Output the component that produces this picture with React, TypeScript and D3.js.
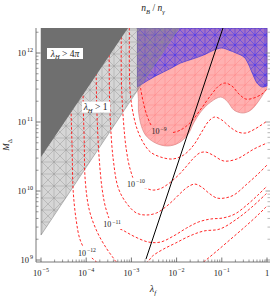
import * as d3 from 'd3'

type Pt = [number, number]

const WIDTH = 276
const HEIGHT = 296

const LAM_MIN = 1e-5
const LAM_MAX = 1
const M_MIN = 1e9
const M_TOP = 2.3e12

const xTickExps = [-5, -4, -3, -2, -1, 0]
const yTickExps = [9, 10, 11, 12]
const minorMults = [2, 3, 4, 5, 6, 7, 8, 9]

// lambda_H > 4pi and lambda_H > 1 edges (straight in log-log)
const lambdaH4piEdge: Pt[] = [[1e-5, 3.1e10], [8.4e-4, 2.3e12]]
const lambdaH1Edge: Pt[] = [[1e-5, 2.3e9], [1.13e-2, 2.3e12]]

// lower edge of the blue region
const blueEdge: Pt[] = [
  [1.36e-3, 3.21e11], [2.39e-3, 4.06e11], [3.78e-3, 4.8e11], [6.98e-3, 5.86e11],
  [1.23e-2, 7.16e11], [2.27e-2, 8.19e11], [3.98e-2, 9.35e11], [6.64e-2, 1.1e12],
  [0.1, 1.18e12], [0.143, 1.1e12], [0.205, 1.0e12], [0.308, 8.75e11],
  [0.378, 7.16e11], [0.441, 5.67e11], [0.514, 4.49e11], [0.6, 3.67e11],
  [0.774, 3.21e11], [1, 3.33e11],
]

// lower edge of the pink region
const redEdge: Pt[] = [
  [1.36e-3, 3.21e11], [1.43e-3, 2.08e11], [1.43e-3, 1.49e11], [1.59e-3, 9.68e10],
  [2.05e-3, 6.48e10], [3.41e-3, 4.96e10], [6.31e-3, 4.49e10], [1.11e-2, 4.96e10],
  [1.75e-2, 6.48e10], [2.39e-2, 9.68e10], [3.41e-2, 1.4e11], [5.7e-2, 1.95e11],
  [9.51e-2, 2.3e11], [0.136, 1.95e11], [0.185, 1.49e11], [0.293, 1.35e11],
  [0.441, 1.49e11], [0.631, 1.95e11], [0.857, 2.63e11], [1, 3.11e11],
]

// solid black line
const blackLine: Pt[] = [[2.1e-3, 1.03e9], [0.106, 2.3e12]]

// n_B / n_gamma contours
const contour9: Pt[] = [
  [1.59e-3, 3.11e11], [1.85e-3, 1.88e11], [2.27e-3, 1.18e11], [2.93e-3, 8.47e10],
  [4.19e-3, 7.41e10], [6.64e-3, 6.93e10], [1.23e-2, 7.66e10], [2.15e-2, 1.03e11],
  [3.59e-2, 1.6e11], [6.0e-2, 2.55e11], [8.57e-2, 3.33e11], [0.117, 3.67e11],
  [0.167, 3.33e11], [0.239, 2.55e11], [0.341, 2.15e11], [0.514, 2.23e11],
  [0.774, 2.55e11], [1, 3.0e11],
]
const contour9h: Pt[] = [
  [9.03e-4, 2.3e12], [9.03e-4, 5.67e11], [9.51e-4, 2.46e11], [1.11e-3, 1.26e11],
  [1.36e-3, 7.66e10], [1.85e-3, 4.96e10], [2.64e-3, 3.67e10], [4.41e-3, 3.11e10],
  [8.15e-3, 2.91e10], [1.43e-2, 3.32e10], [2.39e-2, 4.64e10], [3.59e-2, 7.16e10],
  [5.14e-2, 1.03e11], [6.98e-2, 1.18e11], [0.1, 1.07e11], [0.151, 8.47e10],
  [0.227, 7.16e10], [0.341, 6.93e10], [0.541, 7.92e10], [1, 1.03e11],
]
const contour10: Pt[] = [
  [6.0e-4, 2.3e12], [6.0e-4, 4.06e11], [6.64e-4, 1.07e11], [7.74e-4, 3.93e10],
  [9.51e-4, 2.01e10], [1.29e-3, 1.26e10], [2.05e-3, 1.1e10], [3.08e-3, 1.03e10],
  [4.64e-3, 1.1e10], [6.98e-3, 1.31e10], [1.11e-2, 1.71e10], [1.67e-2, 2.3e10],
  [2.39e-2, 3.01e10], [3.24e-2, 3.56e10], [4.41e-2, 3.67e10], [6.31e-2, 3.32e10],
  [0.111, 2.72e10], [0.215, 2.91e10], [0.341, 3.44e10], [0.514, 4.06e10], [1, 4.96e10],
]
const contour10h: Pt[] = [
  [3.24e-4, 2.3e12], [3.24e-4, 4.06e11], [3.41e-4, 1.07e11], [3.98e-4, 2.81e10],
  [5.14e-4, 1.1e10], [7.74e-4, 6.7e9], [1.29e-3, 4.8e9], [2.15e-3, 4.49e9],
  [3.59e-3, 4.8e9], [5.7e-3, 5.86e9], [8.57e-3, 7.41e9], [1.23e-2, 9.35e9],
  [1.75e-2, 1.14e10], [2.51e-2, 1.26e10], [3.59e-2, 1.14e10], [5.14e-2, 9.35e9],
  [7.74e-2, 7.92e9], [0.117, 7.92e9], [0.185, 8.75e9], [0.359, 1.26e10],
  [0.631, 1.76e10], [1, 2.38e10],
]
const contour11: Pt[] = [
  [1.67e-4, 2.3e12], [1.67e-4, 4.06e11], [1.75e-4, 1.07e11], [1.95e-4, 2.81e10],
  [2.27e-4, 1.03e10], [2.78e-4, 5.31e9], [3.78e-4, 3.32e9], [6.98e-4, 2.63e9],
  [1.23e-3, 2.15e9], [2.39e-3, 1.82e9], [4.41e-3, 1.82e9], [8.57e-3, 2.23e9],
  [1.67e-2, 2.91e9], [3.08e-2, 3.56e9], [5.7e-2, 3.93e9], [0.105, 4.06e9],
  [0.195, 4.64e9], [0.359, 6.27e9], [0.631, 8.75e9], [1, 1.18e10],
]
const contour11h: Pt[] = [
  [8.57e-5, 2.3e12], [8.57e-5, 2.08e11], [9.03e-5, 5.48e10], [9.51e-5, 1.44e10],
  [1.17e-4, 5.31e9], [1.75e-4, 2.55e9], [2.78e-4, 1.49e9], [3.98e-4, 1.07e9],
  [4.64e-4, 9.4e8], [9.5e-4, 7.2e8], [2.27e-3, 9.4e8], [2.93e-3, 1.14e9],
  [5.14e-3, 1.44e9], [9.51e-3, 1.76e9], [1.95e-2, 2.23e9], [3.98e-2, 2.63e9],
  [9.03e-2, 2.81e9], [0.215, 3.93e9], [0.464, 5.86e9], [1, 9.35e9],
]
const contour12: Pt[] = [
  [4.64e-5, 2.3e12], [4.64e-5, 1.49e11], [4.89e-5, 3.93e10], [5.14e-5, 1.03e10],
  [6.0e-5, 3.8e9], [7.36e-5, 1.95e9], [1.05e-4, 1.26e9], [1.67e-4, 9.4e8],
  [3.41e-4, 6.1e8], [2.64e-3, 4.3e8], [2.05e-2, 6.7e8], [3.98e-2, 9.4e8],
  [7.36e-2, 1.31e9], [0.158, 2.01e9], [0.341, 3.11e9], [0.664, 4.64e9], [1, 6.07e9],
]
const contours = [contour9, contour9h, contour10, contour10h, contour11, contour11h, contour12]

const contourLabelExps = [-9, -10, -11, -12]
const contourLabelPos: Pt[] = [[4.08e-3, 7.4e10], [1.26e-3, 1.28e10], [3.73e-4, 3.32e9], [1.04e-4, 1.28e9]]

const FONT = '"Liberation Serif", "Times New Roman", serif'

function Pow({ x, y, base, exp, anchor, size = 8.5 }: { x: number; y: number; base: string; exp: string; anchor: string; size?: number }) {
  return (
    <text x={x} y={y} textAnchor={anchor} fontSize={size} fill="#222">
      <tspan>{base}</tspan>
      <tspan dx={1} dy={-size * 0.42} fontSize={size * 0.72}>{exp}</tspan>
    </text>
  )
}

export default function App() {
  const x = d3.scaleLog().domain([LAM_MIN, LAM_MAX]).range([41, 267])
  const y = d3.scaleLog().domain([M_MIN, 1e12]).range([260, 53])
  const left = 36
  const right = 270
  const top = y(M_TOP)
  const bottom = 262

  const curve = d3.line<Pt>().x(d => x(d[0])).y(d => y(d[1])).curve(d3.curveCatmullRom.alpha(0.5))
  const poly = (pts: Pt[]) => 'M' + pts.map(p => `${x(p[0])},${y(p[1])}`).join('L') + 'Z'
  const underTop = (edge: Pt[]) =>
    curve(edge) + `L${x(LAM_MAX)},${top}L${x(edge[0][0])},${top}Z`

  const darkPath = poly([[LAM_MIN, M_TOP], lambdaH4piEdge[1], lambdaH4piEdge[0]])
  const lightPath = poly([[LAM_MIN, M_TOP], lambdaH1Edge[1], lambdaH1Edge[0]])
  const redPath = underTop(redEdge)
  const bluePath = underTop(blueEdge)

  const yMinor: number[] = []
  yTickExps.forEach(e => minorMults.forEach(k => {
    const v = k * Math.pow(10, e)
    if (v <= M_TOP) yMinor.push(v)
  }))
  const xMinor: number[] = []
  xTickExps.slice(0, -1).forEach(e => minorMults.forEach(k => xMinor.push(k * Math.pow(10, e))))

  return (
    <svg width={WIDTH} height={HEIGHT} style={{ position: 'absolute', left: 0, top: 0 }} fontFamily={FONT}>
      <defs>
        <clipPath id="plotClip">
          <rect x={left} y={top} width={right - left} height={bottom - top} />
        </clipPath>
        <pattern id="meshGray" width={12} height={12} patternUnits="userSpaceOnUse">
          <path d="M0,6H12M6,0V12M0,12L12,0M0,0L12,12" stroke="#8e8e8e" strokeWidth={0.5} fill="none" opacity={0.8} />
        </pattern>
        <pattern id="meshRed" width={10} height={10} patternUnits="userSpaceOnUse">
          <path d="M0,5H10M5,0V10M0,10L10,0M-5,5L5,-5M5,15L15,5" stroke="#ff7c7c" strokeWidth={0.5} fill="none" opacity={0.8} />
        </pattern>
        <pattern id="meshBlue" width={10} height={10} patternUnits="userSpaceOnUse">
          <path d="M0,5H10M5,0V10M0,10L10,0M0,0L10,10" stroke="#2d2dff" strokeWidth={0.6} fill="none" opacity={0.75} />
        </pattern>
        <mask id="labelMask">
          <rect x={0} y={0} width={WIDTH} height={HEIGHT} fill="white" />
          {contourLabelPos.map((p, i) => (
            <rect key={i} x={x(p[0]) - 12} y={y(p[1]) - 6} width={24} height={11} fill="black" />
          ))}
        </mask>
      </defs>

      <g clipPath="url(#plotClip)">
        <path d={redPath} fill="#ffb0b0" stroke="#d98a8a" strokeWidth={0.7} />
        <path d={redPath} fill="url(#meshRed)" />
        <path d={bluePath} fill="rgba(50,40,230,0.45)" stroke="#3b30d0" strokeWidth={0.6} />
        <path d={bluePath} fill="url(#meshBlue)" />
        <path d={lightPath} fill="rgba(128,128,128,0.32)" stroke="#8a8a8a" strokeWidth={0.6} />
        <path d={lightPath} fill="url(#meshGray)" />

        <g mask="url(#labelMask)">
          {contours.map((c, i) => (
            <path key={i} d={curve(c) ?? ''} fill="none" stroke="#ff1010" strokeWidth={0.9} strokeDasharray="2.6,1.9" />
          ))}
        </g>

        <path d={curve.curve(d3.curveLinear)(blackLine) ?? ''} fill="none" stroke="#000" strokeWidth={1} />

        <path d={darkPath} fill="#6f6f6f" />
      </g>

      {/* region labels */}
      <g fontSize={9.5}>
        <rect x={47} y={48} width={36} height={11} fill="white" />
        <text x={x(3.4e-5)} y={y(1e12) + 3.5} textAnchor="middle" fill="#222">
          <tspan fontStyle="italic">λ</tspan>
          <tspan dy={2.5} fontSize={6.5} fontStyle="italic">H</tspan>
          <tspan dy={-2.5}> &gt; 4</tspan>
          <tspan fontStyle="italic">π</tspan>
        </text>
        <rect x={82} y={101.5} width={28} height={11} fill="white" />
        <text x={x(1.61e-4)} y={y(1.65e11) + 3.5} textAnchor="middle" fill="#222">
          <tspan fontStyle="italic">λ</tspan>
          <tspan dy={2.5} fontSize={6.5} fontStyle="italic">H</tspan>
          <tspan dy={-2.5}> &gt; 1</tspan>
        </text>
      </g>

      {/* contour labels */}
      {contourLabelPos.map((p, i) => (
        <Pow key={i} x={x(p[0])} y={y(p[1]) + 3} base="10" exp={`−${-contourLabelExps[i]}`} anchor="middle" size={8} />
      ))}

      {/* frame */}
      <g stroke="#555" strokeWidth={0.8}>
        <line x1={left} x2={left} y1={top} y2={bottom} />
        <line x1={left} x2={right} y1={bottom} y2={bottom} />
        {yTickExps.map(e => (
          <g key={e}>
            <line x1={left} x2={left + 4.5} y1={y(Math.pow(10, e))} y2={y(Math.pow(10, e))} />
            <line x1={right} x2={right - 4.5} y1={y(Math.pow(10, e))} y2={y(Math.pow(10, e))} stroke="#888" />
          </g>
        ))}
        {yMinor.map((v, i) => (
          <g key={i}>
            <line x1={left} x2={left + 2.5} y1={y(v)} y2={y(v)} strokeWidth={0.6} />
            <line x1={right} x2={right - 2.5} y1={y(v)} y2={y(v)} strokeWidth={0.6} stroke="#888" />
          </g>
        ))}
        {xTickExps.map(e => (
          <line key={e} x1={x(Math.pow(10, e))} x2={x(Math.pow(10, e))} y1={bottom} y2={bottom - 4.5} />
        ))}
        {xMinor.map((v, i) => (
          <line key={i} x1={x(v)} x2={x(v)} y1={bottom} y2={bottom - 2.5} strokeWidth={0.6} />
        ))}
      </g>

      {/* tick labels */}
      {yTickExps.map(e => (
        <Pow key={e} x={33} y={y(Math.pow(10, e)) + 3} base="10" exp={String(e)} anchor="end" />
      ))}
      {xTickExps.map(e =>
        e === 0 ? (
          <text key={e} x={x(1)} y={276} textAnchor="middle" fontSize={8.5} fill="#222">1</text>
        ) : (
          <Pow key={e} x={x(Math.pow(10, e))} y={276} base="10" exp={`−${-e}`} anchor="middle" />
        )
      )}

      {/* titles */}
      <text x={(left + right) / 2} y={11} textAnchor="middle" fontSize={9.5} fill="#222">
        <tspan fontStyle="italic">n</tspan>
        <tspan dy={2.5} fontSize={6.5} fontStyle="italic">B</tspan>
        <tspan dy={-2.5}> / </tspan>
        <tspan fontStyle="italic">n</tspan>
        <tspan dy={2.5} fontSize={6.5} fontStyle="italic">γ</tspan>
      </text>
      <text x={(left + right) / 2} y={292} textAnchor="middle" fontSize={10} fill="#222">
        <tspan fontStyle="italic">λ</tspan>
        <tspan dy={2.5} fontSize={7} fontStyle="italic">f</tspan>
      </text>
      <text transform={`translate(9,${(top + bottom) / 2}) rotate(-90)`} textAnchor="middle" fontSize={9} fill="#222">
        <tspan fontStyle="italic">M</tspan>
        <tspan dy={2.5} fontSize={6.5}>Δ</tspan>
      </text>
    </svg>
  )
}
